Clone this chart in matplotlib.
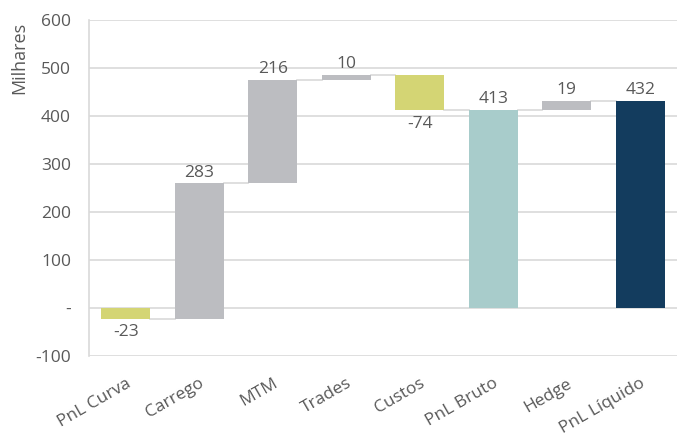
import matplotlib
matplotlib.use('Agg')
import matplotlib.pyplot as plt
from matplotlib.ticker import FuncFormatter
import numpy as np

plt.rcParams['font.family'] = ['Open Sans', 'DejaVu Sans']

# Dados do waterfall (milhares)
categorias = ['PnL Curva', 'Carrego', 'MTM', 'Trades', 'Custos', 'PnL Bruto', 'Hedge', 'PnL Líquido']
valores = [-23, 283, 216, 10, -74, 413, 19, 432]
totais = [False, False, False, False, False, True, False, True]
cores = ['#D4D574', '#BCBDC1', '#BCBDC1', '#BCBDC1', '#D4D574', '#A8CCCB', '#BCBDC1', '#133C5E']

texto_cor = '#595959'
grade_cor = '#D9D9D9'

fig = plt.figure(figsize=(6.77, 4.41), dpi=100)
ax = fig.add_axes([89 / 677, 1 - 356 / 441, 588 / 677, 336 / 441])

x = np.arange(len(categorias))
largura = 0.66
acum = 0
bases, topos = [], []
for i, (v, tot) in enumerate(zip(valores, totais)):
    if tot:
        base = 0
        acum = v
    else:
        base = acum
        acum = acum + v
    bases.append(base)
    topos.append(acum)
    ax.bar(x[i], acum - base, bottom=base, width=largura, color=cores[i], zorder=3)

    if v >= 0:
        ax.text(x[i], max(base, acum) + 5, f'{v}', ha='center', va='bottom',
                fontsize=12.5, color=texto_cor, zorder=4)
    else:
        ax.text(x[i], min(base, acum) - 11, f'{v}', ha='center', va='top',
                fontsize=12.5, color=texto_cor, zorder=4)

# conectores entre barras
for i in range(len(categorias) - 1):
    ax.plot([x[i] + largura / 2, x[i + 1] - largura / 2], [topos[i], topos[i]],
            color=grade_cor, lw=1.2, zorder=2)

ax.set_xlim(-0.5, len(categorias) - 0.5)
ax.set_ylim(-100, 600)
ax.set_yticks(np.arange(-100, 601, 100))


def fmt(v, pos):
    if v == 0:
        return '-'
    return f'{int(v)}'


ax.yaxis.set_major_formatter(FuncFormatter(fmt))
ax.grid(axis='y', color=grade_cor, lw=1.2, zorder=0)
ax.set_axisbelow(True)

for s in ['top', 'right', 'bottom']:
    ax.spines[s].set_visible(False)
ax.spines['left'].set_color(grade_cor)
ax.spines['left'].set_linewidth(1.2)

ax.tick_params(axis='y', length=0, pad=13, labelsize=12.5, labelcolor=texto_cor)
ax.tick_params(axis='x', length=0, pad=14, labelsize=12.5, labelcolor=texto_cor)
ax.set_xticks(x)
ax.set_xticklabels(categorias, rotation=30, ha='right', rotation_mode='anchor')

ax.set_ylabel('Milhares', fontsize=13, color=texto_cor)
ax.yaxis.set_label_coords(-0.104, 0.887)

fig.savefig('out.png', dpi=100)
